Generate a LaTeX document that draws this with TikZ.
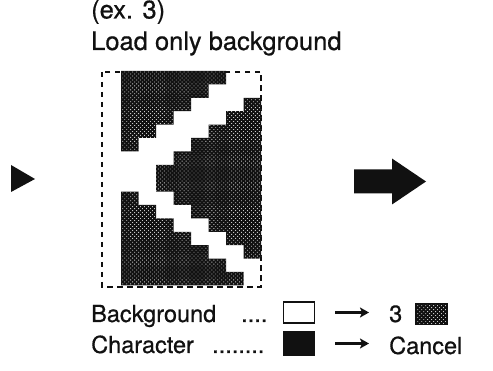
\documentclass[tikz,border=0pt]{standalone}
\usepackage{fontspec}
\setmainfont[FakeBold=0.6]{TeX Gyre Heros}
\usetikzlibrary{arrows.meta,positioning,patterns.meta}
\definecolor{ink}{HTML}{111111}
\definecolor{grain}{HTML}{C8C8C8}
\tikzset{
  lbl/.style={font=\fontsize{23.5}{28}\selectfont,text=ink,inner sep=0pt,anchor=base west},
  headlbl/.style={lbl,font=\fontsize{25.5}{30}\selectfont},
  tile/.style={preaction={fill=ink},pattern={Dots[radius=0.6pt,distance=2.8pt,angle=45]},pattern color=grain},
  frame/.style={draw=ink,line width=1.7pt,dash pattern=on 5.5pt off 4.5pt},
  swatch/.style={draw=ink,line width=1.2pt,minimum width=31pt,minimum height=21pt,inner sep=0pt},
  legar/.style={-{Stealth[length=9pt,width=10pt,inset=2pt]},draw=ink,line width=2.2pt},
}

\begin{document}
\begin{tikzpicture}[x=1pt,y=-1pt]
  \useasboundingbox (0,0) rectangle (493,371);
  % heading
  \node[headlbl] (ex) at (91,18.5) {(ex. 3)};
  \node[headlbl] (head) at (91,50) {Load only background};
  % screen
  \draw[frame] (102,72) rectangle (261,287);
  \fill[tile] foreach \c in {0,...,5} {(121+\c*17.5,71) rectangle (138.5+\c*17.5,71+6*13.4-\c*13.4)};
  \fill[tile] foreach \c in {2,...,7} {(121+\c*17.5,71+9*13.4-\c*13.4) rectangle (138.5+\c*17.5,71+7*13.4+\c*13.4)};
  \fill[tile] foreach \c in {0,...,6} {(121+\c*17.5,71+9*13.4+\c*13.4) rectangle (138.5+\c*17.5,71+16*13.4)};
  % arrows either side
  \fill[ink] (11,165) -- (11,192) -- (35,179) -- cycle;
  \fill[ink] (354,169.5) -- (392,169.5) -- (392,158.5) -- (426,181.5) -- (392,204.5) -- (392,193.5) -- (354,193.5) -- cycle;
  % legend
  \node[lbl] (bg) at (91,322) {Background};
  \node[lbl] (bgdots) at (241,322) {....};
  \node[swatch] (bgbox) at (299,312.5) {};
  \node[lbl] (three) at (389,322) {3};
  \node[swatch,tile] (threebox) at (431.5,314) {};
  \draw[legar,shorten <=20pt,shorten >=20pt] (bgbox.east) -- (bgbox.east -| three.west);
  \node[lbl] (ch) at (91,353) {Character};
  \node[lbl] (chdots) at (212,353) {........};
  \node[swatch,fill=ink,minimum height=23pt] (chbox) at (299,343.5) {};
  \node[lbl] (cancel) at (389,354) {Cancel};
  \draw[legar,shorten <=20pt,shorten >=20pt] (chbox.east) -- (chbox.east -| cancel.west);
\end{tikzpicture}
\end{document}
